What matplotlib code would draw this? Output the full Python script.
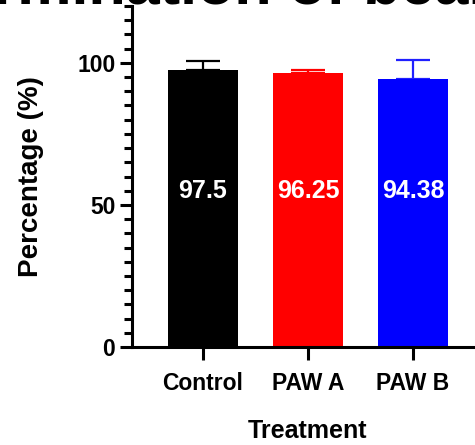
import numpy as np
import matplotlib
matplotlib.use('Agg')
import matplotlib.pyplot as plt
from matplotlib.ticker import MultipleLocator

plt.rcParams['font.family'] = ['Liberation Sans', 'DejaVu Sans']
plt.rcParams['font.weight'] = 'bold'

treatments = ['Control', 'PAW A', 'PAW B']
means = [97.5, 96.25, 94.38]
sd = [3.0, 1.25, 6.6]
labels = ['97.5', '96.25', '94.38']
colors = ['#000000', '#ff0000', '#0000ff']
err_colors = ['#000000', '#ff0000', '#2020ff']

fig = plt.figure(figsize=(4.75, 4.45), dpi=100)
ax = fig.add_axes([132/475, 98/445, 352/475, 341/445])

x = np.arange(len(treatments))
ax.bar(x, means, width=0.667, color=colors, zorder=2)
for i in range(len(x)):
    ax.errorbar(x[i], means[i], yerr=[[0], [sd[i]]], fmt='none',
                ecolor=err_colors[i], elinewidth=1.6, capsize=12.5,
                capthick=1.6, zorder=1)
    ax.text(x[i], 55, labels[i], color='white', ha='center', va='center',
            fontsize=18, fontweight='bold')

ax.set_xlim(-0.676, 2.676)
ax.set_ylim(0, 120)
ax.yaxis.set_major_locator(MultipleLocator(50))
ax.yaxis.set_minor_locator(MultipleLocator(5))
ax.set_xticks(x)
ax.set_xticklabels(treatments)

for s in ['top', 'right']:
    ax.spines[s].set_visible(False)
for s in ['left', 'bottom']:
    ax.spines[s].set_linewidth(2.2)

ax.tick_params(axis='both', which='major', length=9, width=2.2,
               labelsize=16.5, pad=3)
ax.tick_params(axis='y', which='minor', length=5.5, width=2.2)
ax.tick_params(axis='x', which='major', pad=9)
for t in ax.get_xticklabels() + ax.get_yticklabels():
    t.set_fontweight('bold')

ax.set_ylabel('Percentage (%)', fontsize=20, fontweight='bold')
ax.yaxis.set_label_coords(-0.25, 0.5)
ax.set_xlabel('Treatment', fontsize=18, fontweight='bold')
ax.xaxis.set_label_coords(0.5, -0.21)

fig.text(-88/475, 1 - 4/445, 'Germination of bean seeds',
         fontsize=44, fontweight='bold', ha='left', va='baseline')

fig.savefig('out.png', dpi=100)
